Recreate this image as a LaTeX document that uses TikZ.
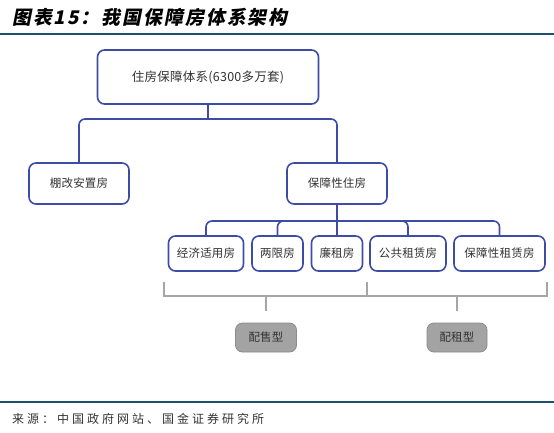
\documentclass[tikz,border=0pt]{standalone}
\usepackage{fontspec}
\newfontfamily\cjk{Noto Sans CJK SC}
\newfontfamily\titlefont[FakeSlant=0.2,LetterSpace=11]{Noto Sans CJK SC}
\newfontfamily\srcfont[LetterSpace=25]{Noto Sans CJK SC}
\newfontfamily\boxfont[LetterSpace=2]{Noto Sans CJK SC}
\definecolor{boxblue}{HTML}{3D4DA6}
\definecolor{txtgray}{HTML}{333333}
\definecolor{rulecol}{HTML}{1F4E6E}
\definecolor{grayfill}{HTML}{A3A3A3}
\definecolor{grayline}{HTML}{8C8C8C}
\definecolor{bracketgray}{HTML}{A6A6A6}
\tikzset{
  bluebox/.style={draw=boxblue,line width=1.6pt,rounded corners=7pt,fill=white,inner sep=0pt,
    font=\boxfont\fontsize{11.5}{13}\selectfont,text=txtgray,align=center},
  graybox/.style={draw=grayline,line width=0.8pt,rounded corners=7pt,fill=grayfill,inner sep=0pt,
    font=\boxfont\fontsize{11.5}{13}\selectfont,text=txtgray},
  conn/.style={draw=boxblue,line width=1.6pt,rounded corners=6pt},
  straight/.style={draw=boxblue,line width=1.6pt},
  bracket/.style={draw=bracketgray,line width=1.6pt},
}
\begin{document}
\begin{tikzpicture}[x=1pt,y=-1pt]
\useasboundingbox[fill=white] (0,0) rectangle (554,432);
% title and rules
\node[anchor=west,inner sep=0pt,font=\titlefont\bfseries\fontsize{18.8}{21}\selectfont,text=black] (title) at (12,17.5) {图表15：我国保障房体系架构};
\draw[rulecol,line width=1.2pt] (0,34) -- (554,34);
\draw[rulecol,line width=1.2pt] (0,402) -- (554,402);
\node[anchor=west,inner sep=0pt,font=\srcfont\fontsize{12}{14}\selectfont,text=txtgray] (src) at (12,418.5) {来源：中国政府网站、国金证券研究所};
% boxes
\node[bluebox,minimum width=221pt,minimum height=54pt,font=\boxfont\fontsize{12.5}{14}\selectfont] (top) at (208,77) {住房保障体系(6300多万套)};
\node[bluebox,minimum width=100pt,minimum height=41pt] (pg) at (79,183.5) {棚改安置房};
\node[bluebox,minimum width=100pt,minimum height=41pt] (bz) at (337,183.5) {保障性住房};
\node[bluebox,minimum width=75pt,minimum height=35pt] (l1) at (206,253.5) {经济适用房};
\node[bluebox,minimum width=51pt,minimum height=35pt] (l2) at (277.5,253.5) {两限房};
\node[bluebox,minimum width=51pt,minimum height=35pt] (l3) at (337,253.5) {廉租房};
\node[bluebox,minimum width=76pt,minimum height=35pt] (l4) at (408,253.5) {公共租赁房};
\node[bluebox,minimum width=91pt,minimum height=35pt] (l5) at (499.5,253.5) {保障性租赁房};
\node[graybox,minimum width=61pt,minimum height=29pt] (ps) at (266,337.5) {配售型};
\node[graybox,minimum width=60pt,minimum height=29pt] (pz) at (457,337.5) {配租型};
% connectors
\coordinate (bus1) at (208,119);
\coordinate (bus2) at (337,221);
\draw[straight] (top.south) -- (bus1);
\draw[conn] (bus1) -| (pg.north);
\draw[conn] (bus1) -| (bz.north);
\draw[straight] (bz.south) -- (l3.north);
\draw[conn] (bus2) -| (l1.north);
\draw[conn] (bus2) -| (l2.north);
\draw[conn] (bus2) -| (l4.north);
\draw[conn] (bus2) -| (l5.north);
% brackets
\coordinate (bl) at (164,282);
\coordinate (bm) at (367,282);
\coordinate (br) at (547,282);
\draw[bracket] (bl) -- (164,296) -- (547,296) -- (br);
\draw[bracket] (bm) -- (367,296);
\draw[bracket] (266,296) -- (266,311);
\draw[bracket] (457,296) -- (457,311);
\end{tikzpicture}
\end{document}
